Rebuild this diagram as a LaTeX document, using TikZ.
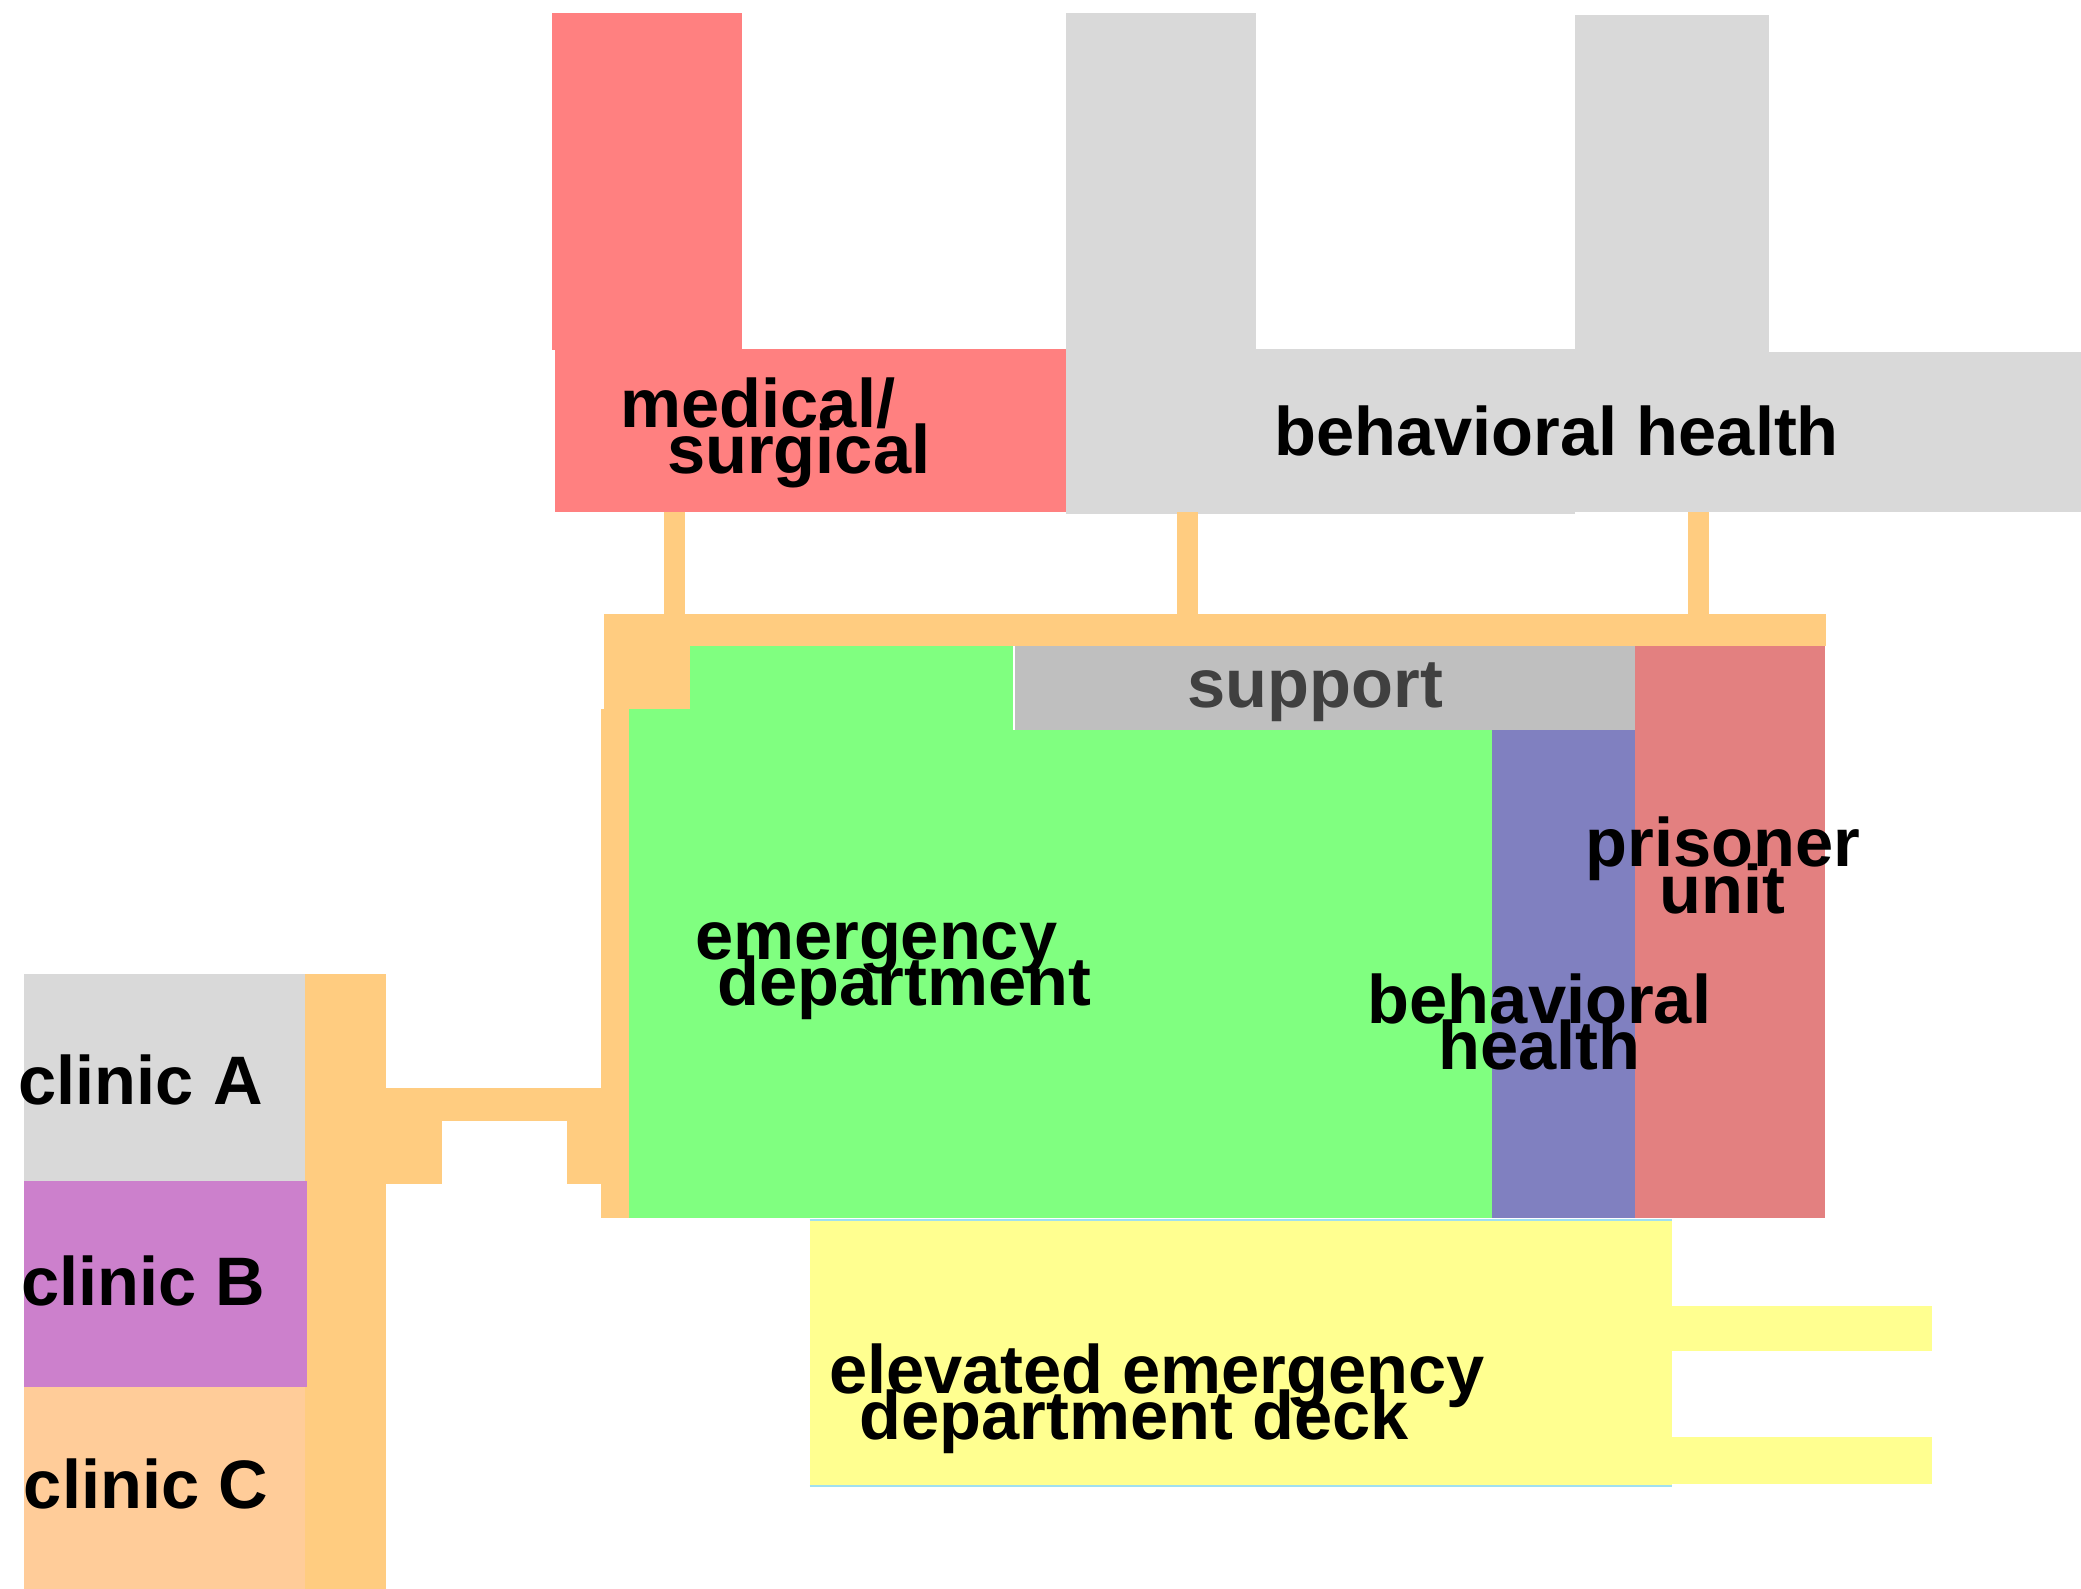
\documentclass[tikz,border=0pt]{standalone}
\usepackage{fontspec}
\setmainfont{Liberation Sans}
\usepackage{tikz}
\definecolor{medred}{HTML}{FF8080}
\definecolor{bhgray}{HTML}{D9D9D9}
\definecolor{hallorange}{HTML}{FFCC80}
\definecolor{edgreen}{HTML}{80FF80}
\definecolor{supgray}{HTML}{BFBFBF}
\definecolor{suptext}{HTML}{404040}
\definecolor{bhblue}{HTML}{8080C0}
\definecolor{prisred}{HTML}{E38080}
\definecolor{deckyellow}{HTML}{FFFF90}
\definecolor{deckedge}{HTML}{A0E0F0}
\definecolor{clinicb}{HTML}{CC80CC}
\definecolor{clinicc}{HTML}{FFCC99}
\newcommand{\roomfont}{\fontsize{14.7}{10}\selectfont\bfseries\lineskiplimit=-30pt\relax}
\tikzset{
  roomlabel/.style={font=\roomfont, inner sep=0pt, align=left, anchor=base west},
  centerlabel/.style={font=\roomfont, inner sep=0pt, align=center, anchor=base},
}

\begin{document}
\begin{tikzpicture}[x=0.01cm,y=-0.01cm]
\useasboundingbox (0,0) rectangle (1568,1197);

% upper floor wards
\fill[medred] (416,10) rectangle (559,264);
\fill[medred] (418,263) rectangle (803,386);
\fill[bhgray] (803,10) rectangle (946,264);
\fill[bhgray] (803,263) rectangle (1187,387);
\fill[bhgray] (1187,11) rectangle (1333,266);
\fill[bhgray] (1187,265) rectangle (1568,386);

% corridors
\fill[hallorange] (500,386) rectangle (516,464);
\fill[hallorange] (887,386) rectangle (903,464);
\fill[hallorange] (1272,386) rectangle (1288,464);
\fill[hallorange] (455,463) rectangle (1376,487);
\fill[hallorange] (455,463) rectangle (520,534);
\fill[hallorange] (453,534) rectangle (474,918);
\fill[hallorange] (230,734) rectangle (291,1197);
\fill[hallorange] (291,820) rectangle (333,892);
\fill[hallorange] (333,820) rectangle (454,845);
\fill[hallorange] (427,841) rectangle (454,892);

% emergency floor
\fill[edgreen] (520,487) rectangle (763,550);
\fill[edgreen] (474,534) rectangle (520,550);
\fill[edgreen] (474,550) rectangle (1124,918);
\fill[supgray] (765,487) rectangle (1232,550);
\fill[bhblue] (1124,550) rectangle (1232,918);
\fill[prisred] (1232,487) rectangle (1375,918);

% deck
\fill[deckyellow] (610,919) rectangle (1260,1120);
\fill[deckyellow] (1260,984) rectangle (1456,1018);
\fill[deckyellow] (1260,1083) rectangle (1456,1118);
\draw[deckedge, line width=0.4pt] (610,919) -- (1260,919);
\draw[deckedge, line width=0.4pt] (610,1120) -- (1260,1120);

% clinics
\fill[bhgray] (18,734) rectangle (230,890);
\fill[clinicb] (18,890) rectangle (231,1045);
\fill[clinicc] (18,1045) rectangle (230,1197);

% labels (anchored on the last line)
\node (medsurg) at (467,357)[roomlabel] {medical/\\\hspace*{0.35cm}surgical};
\node (bhupper) at (1173,343)[centerlabel] {behavioral health};
\node (support) at (991,533)[centerlabel, text=suptext] {support};
\node (emerg) at (523,758)[roomlabel] {emergency\\\hspace*{0.17cm}department};
\node (bhlower) at (1160,806)[centerlabel] {behavioral\\health};
\node (prison) at (1298,688)[centerlabel] {prisoner\\unit};
\node (deck) at (624,1085)[roomlabel] {elevated emergency\\\hspace*{0.23cm}department deck};
\node (clinA) at (106,832)[centerlabel] {clinic A};
\node (clinB) at (108,984)[centerlabel] {clinic B};
\node (clinC) at (110,1137)[centerlabel] {clinic C};
\end{tikzpicture}
\end{document}
